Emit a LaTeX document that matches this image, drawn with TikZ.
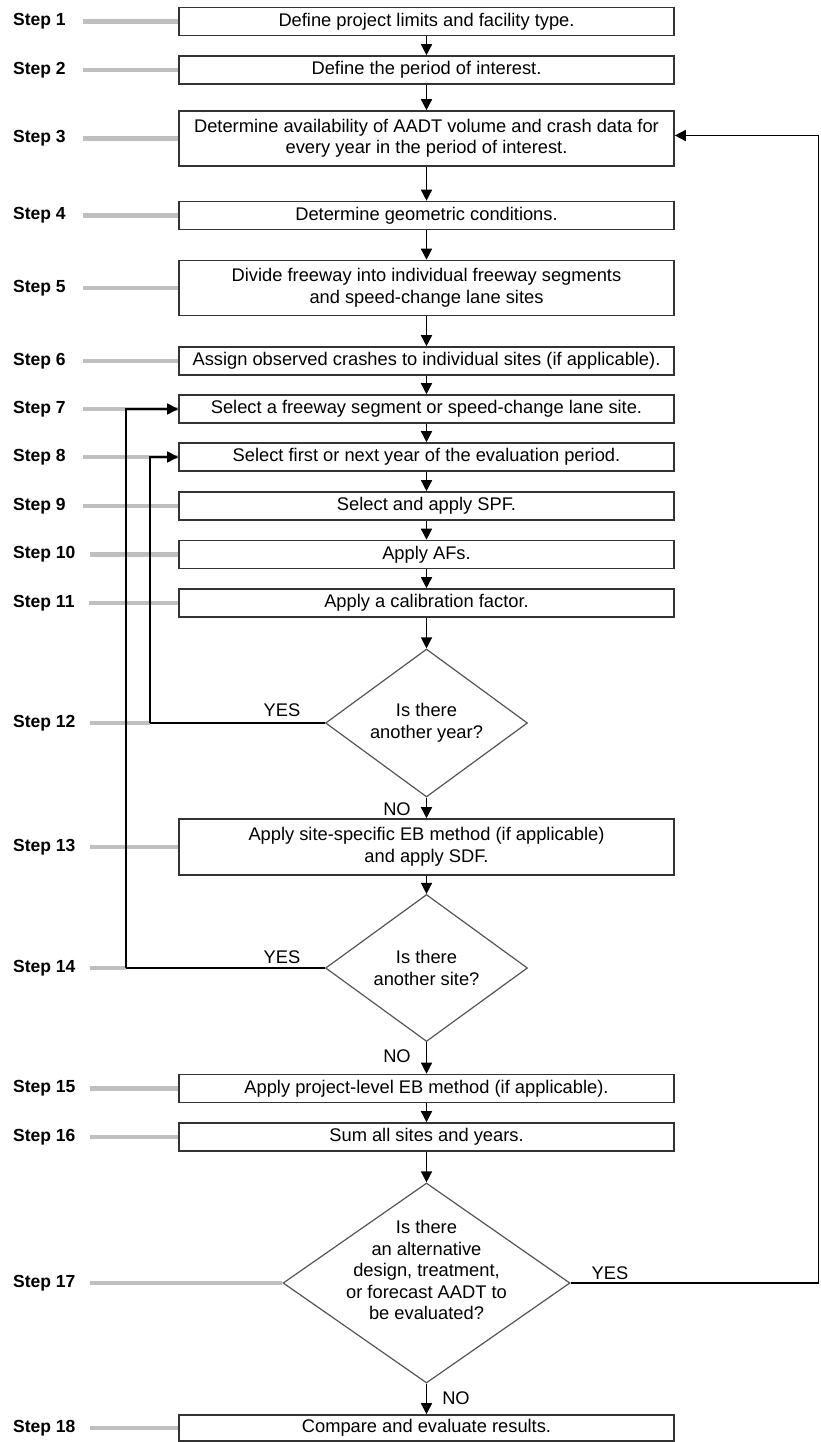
\documentclass[tikz,border=0pt]{standalone}
\usepackage{fontspec}
\setmainfont{Liberation Sans}
\usetikzlibrary{arrows.meta,shapes.geometric}
\definecolor{boxc}{HTML}{333333}
\definecolor{diac}{HTML}{555555}
\definecolor{stepc}{HTML}{BFBFBF}
\newcommand{\mfs}{\fontsize{18.3}{21.5}\selectfont}
\newcommand{\sfs}{\fontsize{17.5}{21.5}\selectfont}
\begin{document}
\begin{tikzpicture}[x=1pt,y=-1pt,
  box/.style={draw=boxc, line width=1.6pt, fill=white, minimum width=495pt, minimum height=28pt, inner sep=0pt, align=center, font=\mfs, text=black},
  tallbox/.style={box, minimum height=55pt},
  dia/.style={draw=diac, line width=1.2pt, shape=diamond, inner sep=0pt, fill=white},
  steplbl/.style={anchor=west, inner sep=0pt, font=\sfs\bfseries, text=black},
  stepline/.style={draw=stepc, line width=4.5pt, shorten <=17pt},
  arr/.style={draw=black, line width=1.5pt, -{Triangle[length=11pt,width=11pt]}},
  conn/.style={draw=black, line width=1.5pt},
  yn/.style={inner sep=0pt, font=\mfs, text=black}
]
\useasboundingbox (0,0) rectangle (820,1442);

% boxes
\node[box] (b1) at (426.5,21.5) {Define project limits and facility type.};
\node[box] (b2) at (426.5,70) {Define the period of interest.};
\node[tallbox] (b3) at (426.5,138.5) {Determine availability of AADT volume and crash data for\\every year in the period of interest.};
\node[box] (b4) at (426.5,215.5) {Determine geometric conditions.};
\node[tallbox] (b5) at (426.5,288) {Divide freeway into individual freeway segments\\and speed-change lane sites};
\node[box] (b6) at (426.5,361) {Assign observed crashes to individual sites (if applicable).};
\node[box] (b7) at (426.5,409) {Select a freeway segment or speed-change lane site.};
\node[box] (b8) at (426.5,457) {Select first or next year of the evaluation period.};
\node[box] (b9) at (426.5,506) {Select and apply SPF.};
\node[box] (b10) at (426.5,554.5) {Apply AFs.};
\node[box] (b11) at (426.5,603) {Apply a calibration factor.};
\node[dia, minimum width=202pt, minimum height=148pt,
  label={[align=center,font=\mfs,text=black]center:Is there\\another year?}] (d1) at (426.5,723) {};
\node[tallbox, minimum height=56pt] (b13) at (426.5,847) {Apply site-specific EB method (if applicable)\\and apply SDF.};
\node[dia, minimum width=202pt, minimum height=147pt,
  label={[align=center,font=\mfs,text=black]center:Is there\\another site?}] (d2) at (426.5,968) {};
\node[box] (b15) at (426.5,1088.5) {Apply project-level EB method (if applicable).};
\node[box] (b16) at (426.5,1137) {Sum all sites and years.};
\node[dia, minimum width=287pt, minimum height=200pt,
  label={[align=center,font=\mfs,text=black,yshift=13pt]center:Is there\\an alternative\\design, treatment,\\or forecast AADT to\\be evaluated?}] (d3) at (426.5,1283) {};
\node[box, minimum height=26pt] (b18) at (426.5,1428) {Compare and evaluate results.};

% step labels
\node[steplbl] (s1) at (13,21.5) {Step 1};
\node[steplbl] (s2) at (13,70) {Step 2};
\node[steplbl] (s3) at (13,138.5) {Step 3};
\node[steplbl] (s4) at (13,215.5) {Step 4};
\node[steplbl] (s5) at (13,288) {Step 5};
\node[steplbl] (s6) at (13,361) {Step 6};
\node[steplbl] (s7) at (13,409) {Step 7};
\node[steplbl] (s8) at (13,457) {Step 8};
\node[steplbl] (s9) at (13,506) {Step 9};
\node[steplbl] (s10) at (13,554.5) {Step 10};
\node[steplbl] (s11) at (13,603) {Step 11};
\node[steplbl] (s12) at (13,723) {Step 12};
\node[steplbl] (s13) at (13,847) {Step 13};
\node[steplbl] (s14) at (13,968) {Step 14};
\node[steplbl] (s15) at (13,1088.5) {Step 15};
\node[steplbl] (s16) at (13,1137) {Step 16};
\node[steplbl] (s17) at (13,1283) {Step 17};
\node[steplbl] (s18) at (13,1428) {Step 18};

% corner coordinates
\coordinate (c12) at (150,723);
\coordinate (c14) at (126,968);
\coordinate (c17) at (818.5,1283);

% gray step lines
\draw[stepline] (s1) -- (b1);
\draw[stepline] (s2) -- (b2);
\draw[stepline] (s3) -- (b3);
\draw[stepline] (s4) -- (b4);
\draw[stepline] (s5) -- (b5);
\draw[stepline] (s6) -- (b6);
\draw[stepline] (s7) -- (b7);
\draw[stepline] (s8) -- (b8);
\draw[stepline] (s9) -- (b9);
\draw[stepline, shorten <=14pt] (s10) -- (b10);
\draw[stepline, shorten <=14pt] (s11) -- (b11);
\draw[stepline, shorten <=14pt] (s12) -- (c12);
\draw[stepline, shorten <=14pt] (s13) -- (b13);
\draw[stepline, shorten <=14pt] (s14) -- (c14);
\draw[stepline, shorten <=14pt] (s15) -- (b15);
\draw[stepline, shorten <=14pt] (s16) -- (b16);
\draw[stepline, shorten <=14pt] (s17) -- (d3);
\draw[stepline, shorten <=14pt] (s18) -- (b18);

% main flow arrows
\draw[arr] (b1) -- (b2);
\draw[arr] (b2) -- (b3);
\draw[arr] (b3) -- (b4);
\draw[arr] (b4) -- (b5);
\draw[arr] (b5) -- (b6);
\draw[arr] (b6) -- (b7);
\draw[arr] (b7) -- (b8);
\draw[arr] (b8) -- (b9);
\draw[arr] (b9) -- (b10);
\draw[arr] (b10) -- (b11);
\draw[arr] (b11) -- (d1.north);
\draw[arr] (d1.south) -- (b13);
\draw[arr] (b13) -- (d2.north);
\draw[arr] (d2.south) -- (b15);
\draw[arr] (b15) -- (b16);
\draw[arr] (b16) -- (d3.north);
\draw[arr] (d3.south) -- (b18);

% feedback loops
\draw[conn] (d1.west) -- (c12);
\draw[arr] (c12) |- (b8.west);
\draw[conn] (d2.west) -- (c14);
\draw[arr] (c14) |- (b7.west);
\draw[conn] (d3.east) -- (c17);
\draw[arr] (c17) |- ([yshift=3pt]b3.east);

% YES / NO labels
\node[yn] (y1) at (282,710) {YES};
\node[yn] (y2) at (282,957) {YES};
\node[yn] (y3) at (610,1273) {YES};
\node[yn] (n1) at (397,809) {NO};
\node[yn] (n2) at (397,1056) {NO};
\node[yn] (n3) at (456,1398) {NO};
\end{tikzpicture}
\end{document}
